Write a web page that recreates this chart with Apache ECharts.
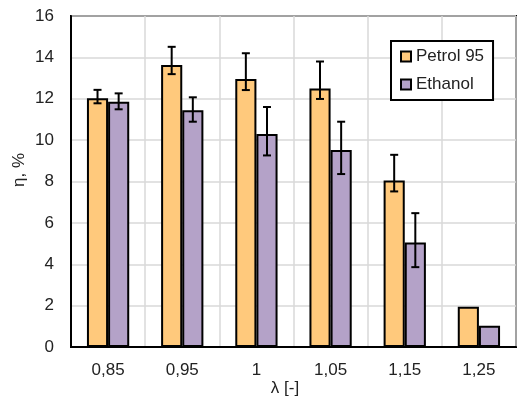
<!DOCTYPE html>
<html>
<head>
<meta charset="utf-8">
<script src="https://cdn.jsdelivr.net/npm/echarts@6/dist/echarts.min.js"></script>
<style>
  html, body { margin: 0; padding: 0; background: #fff; }
  #chart { width: 517px; height: 397px; }
</style>
</head>
<body>
<div id="chart"></div>
<script>
// Excess air ratio categories
const lambdaLabels = ['0,85', '0,95', '1', '1,05', '1,15', '1,25'];

// Efficiency, %
const petrol = [12.03, 13.63, 12.95, 12.5, 8.05, 1.95];
const ethanol = [11.86, 11.45, 10.3, 9.52, 5.05, 1.03];

// Error bar extents above / below each bar (null = no error bar)
const petrolErrPlus  = [0.40, 0.88, 1.25, 1.30, 1.24, null];
const petrolErrMinus = [0.25, 0.44, 0.53, 0.51, 0.53, null];
const ethanolErrPlus  = [0.40, 0.62, 1.30, 1.37, 1.42, null];
const ethanolErrMinus = [0.37, 0.56, 1.04, 1.16, 1.19, null];

const yTicks = [0, 2, 4, 6, 8, 10, 12, 14, 16];

const FONT = '"Liberation Sans", Arial, sans-serif';
const TEXT = '#222';
const CAT_GAP = 0.43;

function errData(vals, plus, minus) {
  const out = [];
  vals.forEach((v, i) => {
    if (plus[i] != null) out.push([i, v, plus[i], minus[i]]);
  });
  return out;
}

function errorBars(side) {
  return function (params, api) {
    const idx = api.value(0);
    const v = api.value(1);
    const hi = v + api.value(2);
    const lo = v - api.value(3);
    const band = api.size([1, 0])[0];
    const bw = band * (1 - CAT_GAP) / 2;
    const x = api.coord([idx, v])[0] + side * bw / 2;
    const yHi = api.coord([idx, hi])[1];
    const yLo = api.coord([idx, lo])[1];
    const cap = 4;
    const style = { stroke: '#000', lineWidth: 2 };
    return {
      type: 'group',
      children: [
        { type: 'line', shape: { x1: x, y1: yHi, x2: x, y2: yLo }, style },
        { type: 'line', shape: { x1: x - cap, y1: yHi, x2: x + cap, y2: yHi }, style },
        { type: 'line', shape: { x1: x - cap, y1: yLo, x2: x + cap, y2: yLo }, style }
      ]
    };
  };
}

const chart = echarts.init(document.getElementById('chart'));
chart.setOption({
  animation: false,
  backgroundColor: '#fff',
  textStyle: { fontFamily: FONT },
  grid: {
    left: 71, right: 1, top: 16, bottom: 50,
    show: true, borderColor: '#000', borderWidth: 2
  },
  legend: {
    orient: 'vertical',
    left: 391, top: 41,
    padding: [7, 9, 7, 9],
    borderColor: '#000', borderWidth: 2,
    backgroundColor: '#fff',
    itemWidth: 10, itemHeight: 10, itemGap: 11,
    icon: 'rect',
    data: ['Petrol 95', 'Ethanol'],
    textStyle: { fontFamily: FONT, fontSize: 17, lineHeight: 17, color: TEXT }
  },
  xAxis: {
    type: 'category',
    data: lambdaLabels,
    axisLine: { lineStyle: { color: '#000', width: 2 } },
    axisTick: { show: false },
    axisLabel: { fontSize: 17, color: TEXT, margin: 15, fontFamily: FONT },
    splitLine: { show: true, interval: 0, lineStyle: { color: '#D9D9D9', width: 1.5 } }
  },
  yAxis: {
    type: 'value',
    min: yTicks[0], max: yTicks[yTicks.length - 1], interval: 2,
    axisLine: { show: true, lineStyle: { color: '#000', width: 2 } },
    axisTick: { show: false },
    axisLabel: { fontSize: 17, color: TEXT, margin: 17, fontFamily: FONT },
    splitLine: { show: true, lineStyle: { color: '#D9D9D9', width: 1.5 } }
  },
  graphic: [
    {
      type: 'text', x: 285, y: 388,
      style: { text: 'λ [-]', fontSize: 17, fontFamily: FONT, fill: TEXT, align: 'center', verticalAlign: 'middle' }
    },
    {
      type: 'text', x: 19, y: 170, rotation: Math.PI / 2,
      style: { text: 'η, %', fontSize: 17, fontFamily: FONT, fill: TEXT, align: 'center', verticalAlign: 'middle' }
    }
  ],
  series: [
    {
      name: 'Petrol 95', type: 'bar', data: petrol,
      barGap: '0%', barCategoryGap: (CAT_GAP * 100) + '%',
      itemStyle: { color: '#FFC97C', borderColor: '#000', borderWidth: 2 }
    },
    {
      name: 'Ethanol', type: 'bar', data: ethanol,
      barGap: '0%', barCategoryGap: (CAT_GAP * 100) + '%',
      itemStyle: { color: '#B4A2C8', borderColor: '#000', borderWidth: 2 }
    },
    {
      type: 'custom', name: 'petrolErr', z: 10,
      renderItem: errorBars(-1),
      encode: { x: 0, y: 1 },
      data: errData(petrol, petrolErrPlus, petrolErrMinus)
    },
    {
      type: 'custom', name: 'ethanolErr', z: 10,
      renderItem: errorBars(1),
      encode: { x: 0, y: 1 },
      data: errData(ethanol, ethanolErrPlus, ethanolErrMinus)
    }
  ]
});
</script>
</body>
</html>
